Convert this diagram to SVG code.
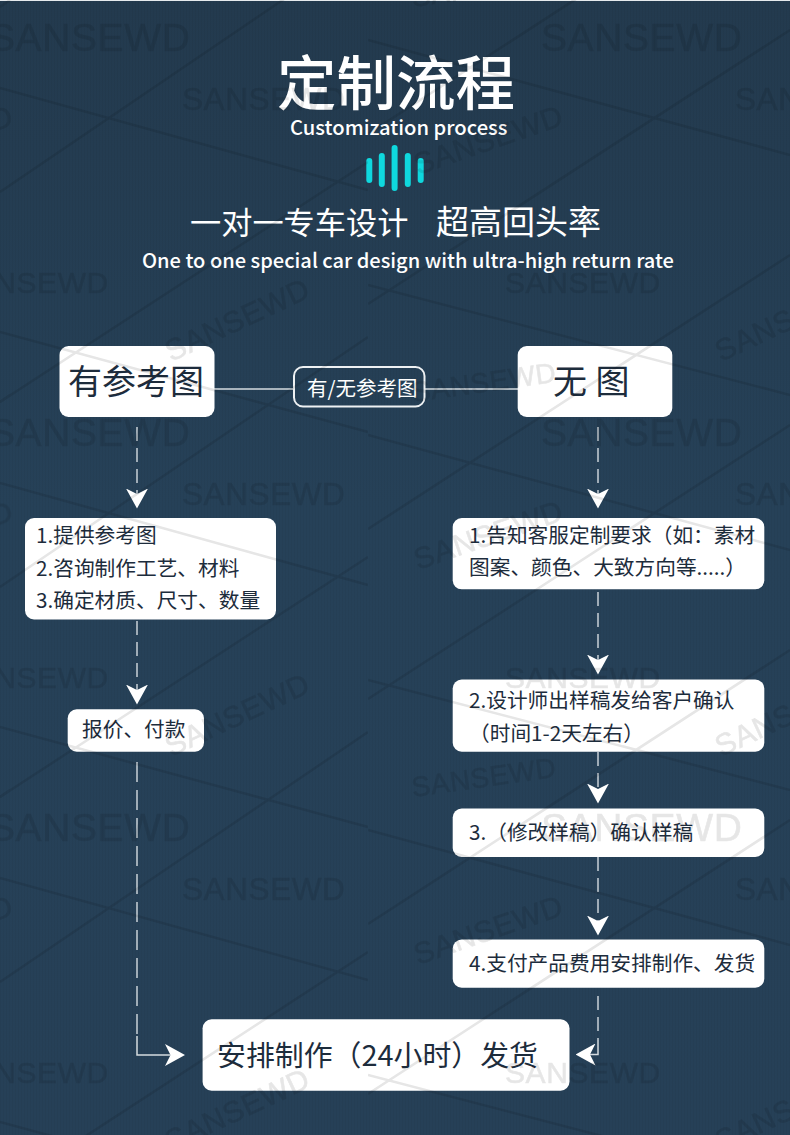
<svg xmlns="http://www.w3.org/2000/svg" width="790" height="1135" viewBox="0 0 790 1135">
<style>
text{font-family:"Noto Sans CJK SC","Noto Sans",sans-serif;white-space:pre}
.box{fill:#fff}
.t{fill:#1d2c3c;font-size:20.7px}
.big{fill:#1d2c3c;font-size:34px}
.w{fill:#fff}
.dash{fill:none;stroke:#c9d1d7;stroke-width:1.5;stroke-dasharray:14 7}
.long{stroke-dasharray:20 8}
.solid{fill:none;stroke:#d5dbe0;stroke-width:1.5}
.bar{fill:#0fd8de}
.wm{font-family:"Liberation Sans",Arial,sans-serif;fill:#000;stroke:#000;stroke-width:.6;letter-spacing:.6px}
.wl{stroke:#000;stroke-width:2.6;fill:none}
</style>
<defs>
<linearGradient id="bg" x1="0" y1="0" x2="0" y2="1">
<stop offset="0" stop-color="#233a4e"/>
<stop offset="0.45" stop-color="#264158"/>
<stop offset="1" stop-color="#264057"/>
</linearGradient>
<pattern id="weave" width="3" height="3" patternUnits="userSpaceOnUse">
<rect width="1" height="3" fill="#000" opacity="0.035"/>
</pattern>
<marker id="head" viewBox="0 0 20 22" refX="5.5" refY="11" markerWidth="20" markerHeight="22" markerUnits="userSpaceOnUse" orient="auto">
<path d="M0 0L20 11L0 22L5.5 11Z" fill="#fff"/>
</marker>
<clipPath id="leftPart"><rect x="0" y="-200" width="368" height="1600"/></clipPath>
<clipPath id="rightPart"><rect x="368" y="-200" width="422" height="1600"/></clipPath>
<g id="tile">
<path class="wl" d="M0 88L368 190M0 192L368 -58M0 332L368 432M0 402L368 162M0 7L10 0" clip-path="url(#leftPart)"/>
<path class="wl" d="M368 40L790 155M368 285L790 395M368 304L790 30M368 134L790 -140" clip-path="url(#rightPart)"/>
<text class="wm" x="-11" y="51" font-size="39">SANSEWD</text>
<text class="wm" x="541" y="51" font-size="39">SANSEWD</text>
<text class="wm" x="182" y="110" font-size="31.5">SANSEWD</text>
<text class="wm" x="735" y="110" font-size="31.5">SANSEWD</text>
<text class="wm" x="-47" y="293" font-size="30">SANSEWD</text>
<text class="wm" x="505" y="293" font-size="30">SANSEWD</text>
<text class="wm" transform="translate(418 175) rotate(-19)" font-size="30">SANSEWD</text>
<text class="wm" transform="translate(-132 175) rotate(-19)" font-size="30">SANSEWD</text>
<text class="wm" transform="translate(171 362) rotate(-25)" font-size="30">SANSEWD</text>
<text class="wm" transform="translate(721 362) rotate(-25)" font-size="30">SANSEWD</text>
<text class="wm" transform="translate(413 7) rotate(-8)" font-size="28">SANSEWD</text>
</g>
</defs>
<rect width="790" height="1135" fill="url(#bg)"/>
<rect width="790" height="1135" fill="url(#weave)"/>
<rect width="790" height="1" fill="#e6eaed"/>

<g id="header">
<text class="w" x="277" y="105" font-size="59.5" font-weight="500">定制流程</text>
<text class="w" x="290" y="135" font-size="20.2" font-weight="500">Customization process</text>
<rect class="bar" x="366.3" y="158" width="6" height="25" rx="3"/>
<rect class="bar" x="378.8" y="153" width="6" height="34" rx="3"/>
<rect class="bar" x="391.6" y="145" width="6" height="46" rx="3"/>
<rect class="bar" x="404.8" y="153" width="6" height="34" rx="3"/>
<rect class="bar" x="417.7" y="158" width="6" height="25" rx="3"/>
<text class="w" x="190" y="234" font-size="31.2">一对一专车设计</text>
<text class="w" x="436" y="234" font-size="33">超高回头率</text>
<text class="w" x="142" y="268" font-size="20.06" font-weight="500">One to one special car design with ultra-high return rate</text>
</g>

<g id="connectors">
<path class="solid" d="M214 389H293M425 389H518"/>
<path class="dash" d="M137 427V494" marker-end="url(#head)"/>
<path class="dash" d="M137 621V690" marker-end="url(#head)"/>
<path class="dash long" d="M137 762V1040"/>
<path class="solid" d="M137 1036V1055H170.5" marker-end="url(#head)"/>
<path class="dash" d="M598 427V494" marker-end="url(#head)"/>
<path class="dash" d="M598 592V660" marker-end="url(#head)"/>
<path class="dash" d="M598 752V789" marker-end="url(#head)"/>
<path class="dash" d="M598 857V921" marker-end="url(#head)"/>
<path class="dash" d="M598 996V1040"/>
<path class="solid" d="M598 1040V1054.500H590" marker-end="url(#head)"/>
</g>

<g id="node-has-ref">
<rect class="box" x="59.500" y="346" width="155" height="71" rx="9"/>
<text class="big" x="68" y="394">有参考图</text>
</g>
<g id="node-question">
<rect x="294" y="367" width="130.500" height="39.500" rx="9" fill="none" stroke="#eef1f3" stroke-width="2"/>
<text class="w" x="307" y="396" font-size="20.500">有/无参考图</text>
</g>
<g id="node-no-ref">
<rect class="box" x="517.700" y="346" width="154.600" height="71" rx="9"/>
<text class="big" x="553" y="394" style="letter-spacing:.5px">无 图</text>
</g>
<g id="node-left-1">
<rect class="box" x="25" y="518" width="251" height="101.500" rx="9"/>
<text class="t" x="36" y="543">1.提供参考图</text>
<text class="t" x="36" y="576">2.咨询制作工艺、材料</text>
<text class="t" x="36" y="608">3.确定材质、尺寸、数量</text>
</g>
<g id="node-left-2">
<rect class="box" x="67.700" y="709.300" width="136.300" height="42.400" rx="9"/>
<text class="t" x="82" y="737">报价、付款</text>
</g>
<g id="node-right-1">
<rect class="box" x="452.700" y="518" width="311.600" height="71.300" rx="9"/>
<text class="t" x="469" y="543">1.告知客服定制要求（如：素材</text>
<text class="t" x="469" y="575">图案、颜色、大致方向等.....）</text>
</g>
<g id="node-right-2">
<rect class="box" x="452.700" y="679.500" width="311.600" height="72.200" rx="9"/>
<text class="t" x="469" y="708">2.设计师出样稿发给客户确认</text>
<text class="t" x="469" y="741">（时间1-2天左右）</text>
</g>
<g id="node-right-3">
<rect class="box" x="452.700" y="808.500" width="311.600" height="48.500" rx="9"/>
<text class="t" x="469" y="840">3.（修改样稿）确认样稿</text>
</g>
<g id="node-right-4">
<rect class="box" x="452.700" y="939.500" width="311.600" height="48.200" rx="9"/>
<text class="t" x="469" y="971">4.支付产品费用安排制作、发货</text>
</g>
<g id="node-final">
<rect class="box" x="202.600" y="1019.300" width="366.900" height="71.400" rx="9"/>
<text class="t" x="217" y="1066" style="font-size:28.900px">安排制作（24小时）发货</text>
</g>

<g id="watermark" opacity="0.1">
<use href="#tile"/>
<use href="#tile" y="395"/>
<use href="#tile" y="790"/>
</g>
</svg>
